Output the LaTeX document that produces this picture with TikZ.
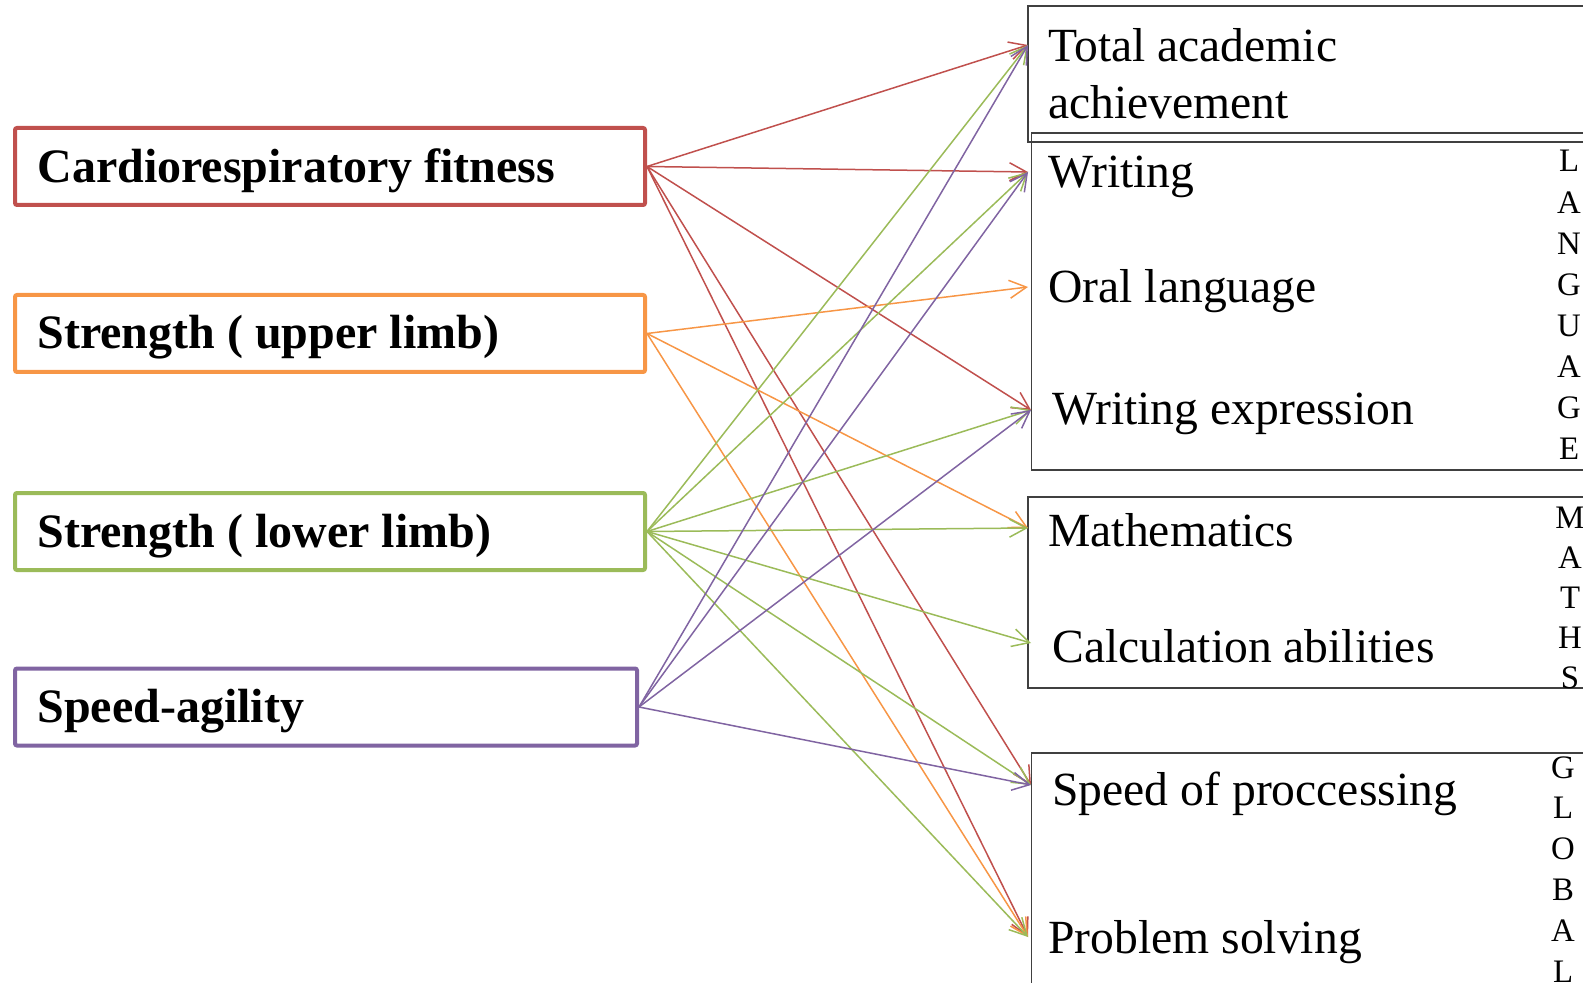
\documentclass[tikz,border=0pt]{standalone}
\usepackage{fontspec}
\setmainfont{Liberation Serif}
\usetikzlibrary{arrows.meta}
\definecolor{cfred}{HTML}{C0504D}
\definecolor{suorange}{HTML}{F79646}
\definecolor{slgreen}{HTML}{9BBB59}
\definecolor{sapurple}{HTML}{8064A2}
\definecolor{boxgray}{HTML}{404040}
\begin{document}
\begin{tikzpicture}[x=0.5pt,y=-0.5pt,
  srcbox/.style={draw, line width=2pt, rounded corners=1pt, inner sep=0pt,
    minimum width=315pt, minimum height=38.5pt},
  srclabel/.style={anchor=base west, inner sep=0pt, font=\fontsize{24}{28}\selectfont\bfseries},
  tgtlabel/.style={anchor=base west, inner sep=0pt, font=\fontsize{23.8}{28}\selectfont},
  letter/.style={anchor=base, inner sep=0pt, font=\fontsize{16.4}{20}\selectfont},
  grpbox/.style={draw=boxgray, line width=0.7pt},
  link/.style={line width=0.75pt, -{Straight Barb[length=8.5pt,width=9pt]}}
]
\useasboundingbox (0,0) rectangle (1583,983);
\clip (0,0) rectangle (1583,983);

% group boxes on the right
\draw[grpbox] (1028,6) rectangle (1700,142);
\draw[grpbox] (1031.5,133) rectangle (1700,470);
\draw[grpbox] (1028,497) rectangle (1700,688);
\draw[grpbox] (1031.5,753) rectangle (1700,1100);

% source boxes
\node[srcbox, draw=cfred] (cf) at (330,166.5) {};
\node[srcbox, draw=suorange] (su) at (330,333.5) {};
\node[srcbox, draw=slgreen] (sl) at (330,531.5) {};
\node[srcbox, draw=sapurple, minimum width=311pt] (sa) at (326,707) {};

\node[srclabel] (cflbl) at (37,183) {Cardiorespiratory fitness};
\node[srclabel] (sulbl) at (37,349) {Strength ( upper limb)};
\node[srclabel] (sllbl) at (37,547) {Strength ( lower limb)};
\node[srclabel] (salbl) at (37,722) {Speed-agility};

% target labels
\node[tgtlabel] (tot1) at (1048,62) {Total academic};
\node[tgtlabel] (tot2) at (1048,119) {achievement};
\node[tgtlabel] (wri) at (1048,188) {Writing};
\node[tgtlabel] (oral) at (1048,303) {Oral language};
\node[tgtlabel] (wexp) at (1052,425) {Writing expression};
\node[tgtlabel] (math) at (1048,546) {Mathematics};
\node[tgtlabel] (calc) at (1052,662) {Calculation abilities};
\node[tgtlabel] (spd) at (1052,805) {Speed of proccessing};
\node[tgtlabel] (prob) at (1048,953) {Problem solving};

% vertical group names
\foreach \l [count=\i] in {L,A,N,G,U,A,G,E}
  \node[letter] (lang\i) at (1569,{172+41.1*(\i-1)}) {\l};
\foreach \l [count=\i] in {M,A,T,H,S}
  \node[letter] (maths\i) at (1570,{528+40*(\i-1)}) {\l};
\foreach \l [count=\i] in {G,L,O,B,A,L}
  \node[letter] (glob\i) at (1563,{778+40.8*(\i-1)}) {\l};

% arrow tips
\coordinate (t1) at (1028,45);
\coordinate (t2) at (1028,172);
\coordinate (t3) at (1028,287);
\coordinate (t4) at (1031,410);
\coordinate (t5) at (1028,528);
\coordinate (t6) at (1031,643);
\coordinate (t7) at (1031,785);
\coordinate (t8) at (1028,937);

% connectors
\foreach \t in {t1,t2,t4,t7,t8} \draw[link, cfred] (cf.east) -- (\t);
\foreach \t in {t3,t5,t8} \draw[link, suorange] (su.east) -- (\t);
\foreach \t in {t1,t2,t4,t5,t6,t7,t8} \draw[link, slgreen] (sl.east) -- (\t);
\foreach \t in {t1,t2,t4,t7} \draw[link, sapurple] (sa.east) -- (\t);
\end{tikzpicture}
\end{document}
